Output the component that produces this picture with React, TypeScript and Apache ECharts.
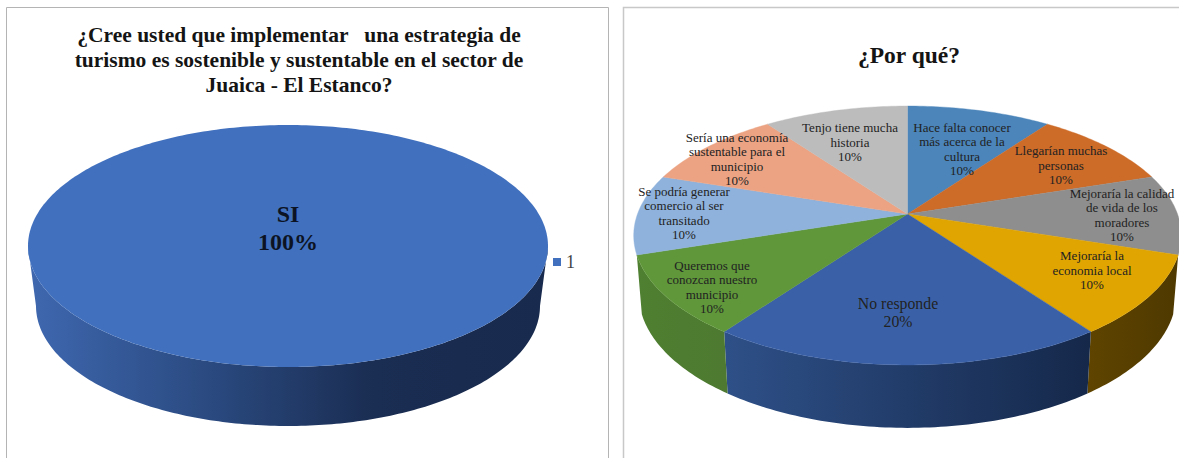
import React, { useEffect, useRef } from "react";
import * as echarts from "echarts";

const leftTitle = "¿Cree usted que implementar   una estrategia de\nturismo es sostenible y sustentable en el sector de\nJuaica - El Estanco?";
const rightTitle = "¿Por qué?";
const surveyLegend = ["1"];
const surveyLabels = ["SI\n100%"];
const surveyValues = [100];

const reasonLabels = [
  "Hace falta conocer\nmás acerca de la\ncultura\n10%",
  "Llegarían muchas\npersonas\n10%",
  "Mejoraría la calidad\nde vida de los\nmoradores\n10%",
  "Mejoraría la\neconomia local\n10%",
  "No responde\n20%",
  "Queremos que\nconozcan nuestro\nmunicipio\n10%",
  "Se podría generar\ncomercio al ser\ntransitado\n10%",
  "Sería una economía\nsustentable para el\nmunicipio\n10%",
  "Tenjo tiene mucha\nhistoria\n10%",
];
const reasonValues = [10, 10, 10, 10, 20, 10, 10, 10, 10];

// styling and layout
const SERIF = '"Liberation Serif", serif';
const reasonColors = ["#4b85ba", "#cd6b28", "#8e8e8e", "#e0a500", "#3a61a8", "#5f973a", "#8fb2dc", "#eba384", "#bcbcbc"];
const reasonSides: (string[] | null)[] = [
  null, null, null,
  ["#5f4400", "#4f3900"],
  ["#2e5088", "#15284a"],
  ["#4f7f31", "#4d7a30"],
  null, null, null,
];
const reasonLabelAnchors = [
  [962, 149], [1061, 165], [1122, 215], [1092, 270], [898, 312],
  [712, 287], [684, 213], [737, 159], [850, 142],
];

type Proj = { cx: number; cy: number; bx: number; ay: number; k: number };
const leftTop: Proj = { cx: 288, cy: 246, bx: 260, ay: 121, k: 0 };
const leftBottom: Proj = { cx: 288, cy: 306, bx: 252, ay: 120, k: 0 };
const rightTop: Proj = { cx: 907.5, cy: 214, bx: 270, ay: 125.9, k: 0.166 };
const rightBottom: Proj = { cx: 907.5, cy: 272, bx: 265, ay: 130, k: 0.166 };

// angle measured clockwise from 12 o'clock, in degrees
function rim(p: Proj, deg: number): number[] {
  const t = (deg * Math.PI) / 180;
  const u = Math.sin(t);
  const v = -Math.cos(t);
  const w = 1 - p.k * v;
  return [p.cx + (p.bx * u) / w, p.cy + (p.ay * v) / w];
}
function arc(p: Proj, a: number, b: number): number[][] {
  const pts: number[][] = [];
  const n = Math.max(2, Math.ceil(Math.abs(b - a)));
  for (let i = 0; i <= n; i++) pts.push(rim(p, a + ((b - a) * i) / n));
  return pts;
}
function spans(values: number[]): number[][] {
  const total = values.reduce((s, x) => s + x, 0);
  let acc = 0;
  return values.map((x) => {
    const a = (acc / total) * 360;
    acc += x;
    return [a, (acc / total) * 360];
  });
}
const grad = (c: string[]) =>
  new echarts.graphic.LinearGradient(0, 0, 1, 0, c.map((color, i) => ({ offset: i / (c.length - 1), color })));

export default function App() {
  const ref = useRef<HTMLDivElement>(null);
  useEffect(() => {
    const chart = echarts.init(ref.current!, undefined, { renderer: "svg" });
    const rSpans = spans(reasonValues);
    const lSpans = spans(surveyValues);
    chart.setOption({
      animation: false,
      backgroundColor: "#ffffff",
      title: [
        {
          text: leftTitle,
          left: 294,
          top: 17,
          textAlign: "center",
          textStyle: { fontFamily: SERIF, fontWeight: "bold", fontSize: 21.5, lineHeight: 25, color: "#141414" },
        },
        {
          text: rightTitle,
          left: 904,
          top: 37,
          textAlign: "center",
          textStyle: { fontFamily: SERIF, fontWeight: "bold", fontSize: 23.5, lineHeight: 26, color: "#141414" },
        },
      ],
      legend: {
        data: [{ name: surveyLegend[0], icon: "rect", itemStyle: { color: "#4170be" } }],
        left: 548,
        top: 248,
        itemWidth: 8,
        itemHeight: 8,
        itemGap: 4,
        selectedMode: false,
        textStyle: { fontFamily: SERIF, fontSize: 18, color: "#444444" },
      },
      graphic: [
        { type: "polyline", silent: true, shape: { points: [[6.5, 458], [6.5, 7.5], [608.5, 7.5], [608.5, 458]] }, style: { stroke: "#b4b4b4", lineWidth: 1, fill: "none" } },
        { type: "polyline", silent: true, shape: { points: [[623.5, 458], [623.5, 7.5], [1179, 7.5]] }, style: { stroke: "#c8c8c8", lineWidth: 1.5, fill: "none" } },
      ],
      series: [
        {
          type: "custom",
          name: "surveySide",
          coordinateSystem: "none",
          silent: true,
          data: surveyValues,
          renderItem: () => ({
            type: "polygon",
            shape: { points: [...arc(leftTop, 90, 270), ...arc(leftBottom, 270, 90)] },
            style: { fill: grad(["#3f68b0", "#2b4b82", "#1a2d52", "#182a4d"]) },
          }),
        },
        {
          type: "custom",
          name: surveyLegend[0],
          coordinateSystem: "none",
          silent: true,
          itemStyle: { color: "#4170be" },
          data: surveyValues,
          renderItem: (p: any) => {
            const [a, b] = lSpans[p.dataIndex];
            return {
              type: "polygon",
              shape: { points: arc(leftTop, a, b) },
              style: { fill: "#4170be" },
            };
          },
        },
        {
          type: "custom",
          name: "surveyLabel",
          coordinateSystem: "none",
          silent: true,
          data: surveyValues,
          renderItem: (p: any) => ({
            type: "text",
            x: 288,
            y: 228,
            style: {
              text: surveyLabels[p.dataIndex],
              font: `bold 24px ${SERIF}`,
              lineHeight: 28,
              align: "center",
              verticalAlign: "middle",
              fill: "#0c1424",
            },
          }),
        },
        {
          type: "custom",
          name: "reasonSide",
          coordinateSystem: "none",
          silent: true,
          data: reasonValues,
          renderItem: (p: any) => {
            const c = reasonSides[p.dataIndex];
            if (!c) return null;
            const [a, b] = rSpans[p.dataIndex];
            return {
              type: "polygon",
              shape: { points: [...arc(rightTop, a, b), ...arc(rightBottom, b, a)] },
              style: { fill: grad(c) },
            };
          },
        },
        {
          type: "custom",
          name: "reasonTop",
          coordinateSystem: "none",
          silent: true,
          data: reasonValues,
          renderItem: (p: any) => {
            const [a, b] = rSpans[p.dataIndex];
            return {
              type: "polygon",
              shape: { points: [[rightTop.cx, rightTop.cy], ...arc(rightTop, a, b)] },
              style: { fill: reasonColors[p.dataIndex], stroke: reasonColors[p.dataIndex], lineWidth: 0.4 },
            };
          },
        },
        {
          type: "custom",
          name: "reasonLabel",
          coordinateSystem: "none",
          silent: true,
          data: reasonValues,
          renderItem: (p: any) => {
            const i = p.dataIndex;
            const big = reasonValues[i] >= 20;
            return {
              type: "text",
              x: reasonLabelAnchors[i][0],
              y: reasonLabelAnchors[i][1],
              style: {
                text: reasonLabels[i],
                font: `${big ? 15.8 : 13}px ${SERIF}`,
                lineHeight: big ? 18 : 14.5,
                align: "center",
                verticalAlign: "middle",
                fill: "#222222",
              },
            };
          },
        },
      ],
    });
    return () => chart.dispose();
  }, []);
  return <div ref={ref} style={{ position: "absolute", left: 0, top: 0, width: 1179, height: 458 }} />;
}
